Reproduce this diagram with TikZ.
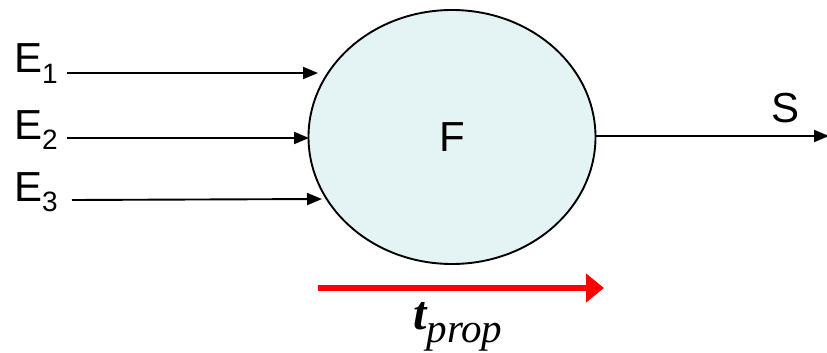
\documentclass[tikz,border=0pt]{standalone}
\usepackage{fontspec}
\setmainfont{Liberation Sans}
\newfontfamily\tnr{Liberation Serif}
\usetikzlibrary{arrows.meta,shapes.geometric}
\tikzset{
  lbl/.style={inner sep=0pt, anchor=base west, font=\fontsize{42}{42}\selectfont},
  inarrow/.style={draw=black, line width=1.9pt, -{Triangle[length=15pt,width=12pt]}}
}
\newcommand{\mysub}[1]{\raisebox{-10pt}{\fontsize{28}{28}\selectfont #1}}
\begin{document}
\begin{tikzpicture}[x=1pt,y=-1pt]
\useasboundingbox (0,0) rectangle (827,353);
\node[ellipse, draw=black, line width=1.9pt, fill={rgb,255:red,228;green,244;blue,244},
      minimum width=287pt, minimum height=254pt, inner sep=0pt] (F) at (452,137) {};
\node[inner sep=0pt, font=\fontsize{42}{42}\selectfont] (Flbl) at (452,137) {F};
% inputs
\node[lbl] (E1) at (14,73) {E\mysub{1}};
\node[lbl] (E2) at (14,139) {E\mysub{2}};
\node[lbl] (E3) at (14,201) {E\mysub{3}};
\coordinate (e1s) at (67,73);  \coordinate (e1t) at (318,73);
\coordinate (e2s) at (67,138); \coordinate (e2t) at (309,138);
\coordinate (e3s) at (72,200); \coordinate (e3t) at (322,199);
\draw[inarrow] (e1s) -- (e1t);
\draw[inarrow] (e2s) -- (e2t);
\draw[inarrow] (e3s) -- (e3t);
% output
\coordinate (send) at (829,136);
\draw[inarrow] (F.east |- 0,136) -- (send);
\node[lbl] (S) at (771,122) {S};
% propagation time
\coordinate (ps) at (318,288); \coordinate (pe) at (604,288);
\draw[red, line width=6.5pt, -{Triangle[length=18pt,width=28pt]}] (ps) -- (pe);
\node[inner sep=0pt, anchor=base west] (tp) at (413,329)
  {\tnr\fontsize{48}{48}\selectfont\bfseries\itshape t\raisebox{-13pt}{\mdseries\fontsize{41}{41}\selectfont prop}};
\end{tikzpicture}
\end{document}
